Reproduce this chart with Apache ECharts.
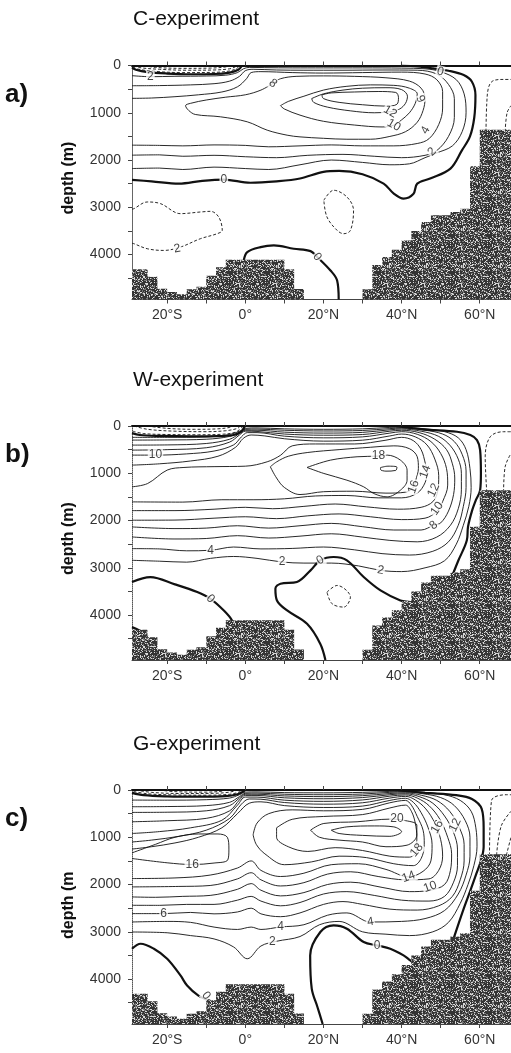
<!DOCTYPE html>
<html>
<head>
<meta charset="utf-8">
<script src="https://cdn.jsdelivr.net/npm/echarts@6/dist/echarts.min.js"></script>
<style>
  html, body { margin: 0; padding: 0; background: #fff; }
  #chart { width: 511px; height: 1053px; }
</style>
</head>
<body>
<div id="chart"></div>
<script>
// ---------- axes ----------
const LAT_MIN = -29, LAT_MAX = 68, DEPTH_MAX = 4950;
const latTicks = [-20, -10, 0, 10, 20, 30, 40, 50, 60];
const latLabels = [-20, 0, 20, 40, 60];
const depthLabels = [0, 1000, 2000, 3000, 4000];
const depthTicks = [0, 500, 1000, 1500, 2000, 2500, 3000, 3500, 4000, 4500];
const panelTitles = ['C-experiment', 'W-experiment', 'G-experiment'];
const panelTags = ['a)', 'b)', 'c)'];
const depthTitles = ['depth (m)', 'depth (m)', 'depth (m'];

// ---------- ocean floor: [west lat, east lat, depth m] ----------
const bathymetry = [
  [-29, -25, 4310], [-25, -22.5, 4470], [-22.5, -20, 4720], [-20, -17.5, 4790],
  [-17.5, -15, 4840], [-15, -12.5, 4735], [-12.5, -10, 4680], [-10, -7.5, 4450],
  [-7.5, -5, 4270], [-5, 10, 4110], [10, 12.5, 4310], [12.5, 15, 4730],
  [15, 30, 4950], [30, 32.5, 4735], [32.5, 35, 4220], [35, 37.5, 4050],
  [37.5, 40, 3900], [40, 42.5, 3700], [42.5, 45, 3500], [45, 47.5, 3310],
  [47.5, 52.5, 3170], [52.5, 55, 3100], [55, 57.5, 3030], [57.5, 60, 2130],
  [60, 68, 1360]
];

// ---------- streamfunction contours (Sv): [level, [[lat, depth], ...]] ----------
const linesC = [
  [0, [[-29,40],[-28,90],[-25,140],[-20,170],[-14,185],[-8,180],[-4,150],[-1.8,90],[-0.8,0]]],
  [-2, [[-28.8,20],[-27.5,75],[-23,125],[-16,150],[-8,145],[-4,115],[-2.2,60],[-1.4,0]]],
  [-4, [[-28.6,0],[-27,45],[-22,80],[-15,100],[-8,95],[-4,70],[-2.6,30],[-2,0]]],
  [-6, [[-26,0],[-23,40],[-16,60],[-9,55],[-5,30],[-4,0]]],
  [2, [[-29,215],[-24.3,237],[-18,228],[-10,222],[-5,205],[-2,150],[-0.5,70],[1,40],[5,45],[12,50],[20,50],[30,50],[40,55],[46,70],[50,130],[54,300],[56,600],[56.5,1000],[55.5,1400],[53,1700],[49,1850],[46,1950],[42,2080],[37,2100],[30,2050],[22,2000],[14,2100],[6,2200],[0,2180],[-8,2150],[-16,2200],[-22,2170],[-29,2180]]],
  [4, [[-29,428],[-22,425],[-14,410],[-8,385],[-4,330],[-1.5,230],[0,110],[2,80],[8,95],[15,100],[25,100],[35,95],[44,100],[49,180],[52,400],[53.5,700],[53.5,1100],[52,1500],[49,1800],[46,1900],[40,1950],[33,1920],[25,1880],[16,1900],[8,1950],[0,1930],[-8,1900],[-16,1920],[-22,1890],[-29,1897]]],
  [6, [[-29,695],[-24,688],[-18,660],[-12,620],[-6,560],[-2,450],[0.3,280],[1.5,150],[4,130],[12,150],[20,160],[30,150],[40,140],[46,180],[49,300],[50.5,550],[50.5,900],[49.5,1250],[47,1550],[44,1650],[38,1700],[30,1700],[22,1680],[14,1700],[6,1720],[0,1690],[-8,1680],[-16,1700],[-22,1690],[-29,1685]]],
  [8, [[7.1,378],[4,520],[0,620],[-5,670],[-10,730],[-14,800],[-15.3,850],[-14.5,950],[-12.8,1036],[-6.4,1085],[0.5,1191],[5.6,1368],[10.7,1474],[14,1510],[20,1540],[26,1560],[32,1560],[37,1500],[41,1400],[44,1200],[45.5,950],[46,700],[45,480],[42,330],[36,260],[28,230],[20,220],[13,230],[9,280],[7.1,378]]],
  [10, [[9,850],[11,760],[15,650],[20,520],[26,440],[32,410],[38,420],[42,480],[44,600],[43.5,800],[42,1000],[40,1150],[38,1262],[35,1300],[28,1260],[20,1180],[14,1050],[10,920],[9,850]]],
  [12, [[17,700],[20,600],[25,520],[30,480],[36,470],[40,510],[41.5,650],[41,800],[39.5,920],[37,979],[33,1000],[27,960],[21,880],[17.5,780],[17,700]]],
  [14, [[19.6,620],[22,580],[28,560],[34,550],[38.5,570],[39.2,680],[38.8,820],[36,860],[30,830],[24,780],[20,700],[19.6,620]]],
  [0, [[-29,2420],[-24,2450],[-17,2500],[-11,2440],[-5.5,2413],[1.3,2480],[8,2450],[14,2390],[20,2250],[24,2230],[30,2300],[35.4,2498],[38,2710],[40.5,2816],[43,2720],[44,2500],[47.3,2392],[52.5,2180],[55.4,1800],[57.5,1500],[58.6,1100],[58.9,626],[58,343],[55.9,202],[52,110],[48,60],[44,20],[40,0]]],
  [0, [[-0.4,4124],[0.5,3947],[3.9,3841],[7.3,3806],[12.4,3876],[16.7,3926],[18.4,4050],[21.8,4336],[23.5,4548],[23.9,4950]]],
  [-2, [[-29,3040],[-28.5,3028],[-25.1,2887],[-21.7,2922],[-16.6,3134],[-11.5,3099],[-8.9,3085],[-6.8,3205],[-5.9,3488],[-7.2,3558],[-11.5,3664],[-16.6,3841],[-20.9,3912],[-25.1,3876],[-28.5,3770],[-29,3760]]],
  [-2, [[20.1,2851],[22.6,2639],[26,2780],[27.7,3063],[26.9,3488],[25.2,3558],[23.5,3488],[20.9,3205],[20.1,2851]]],
  [-2, [[61.6,1400],[61.8,800],[62.3,450],[63.5,320],[66,295],[68,295]]],
  [-2, [[66.5,1400],[67,1000],[68,850]]]
];
const labelsC = [
  [-24.3, 237, '2', 0], [7.1, 378, '8', -40], [37.1, 979, '12', -30], [38, 1262, '10', -30],
  [45.2, 696, '6', 115], [46.1, 1368, '4', 60], [47.8, 1828, '2', 45], [49.9, 131, '0', -15],
  [-5.5, 2413, '0', 0], [18.4, 4050, '0', -50], [-17.4, 3876, '2', 10]
];

const linesW = [
  [0, [[-29,150],[-27,190],[-22,210],[-14,220],[-7,215],[-3,190],[-1,120],[-0.3,30],[0,0]]],
  [-2, [[-28.8,110],[-26,160],[-20,180],[-12,185],[-6,175],[-2.5,130],[-1,40],[-0.7,0]]],
  [-4, [[-28.5,0],[-25,70],[-18,110],[-10,120],[-5,100],[-2,50],[-1.3,0]]],
  [-6, [[-25,0],[-20,50],[-13,70],[-7,60],[-4,30],[-3,0]]],
  [2, [[-29,240],[-20,240],[-10,230],[-4,180],[-1.5,110],[0,50],[3,40],[10,60],[20,70],[30,60],[37,30],[40,25],[46,60],[51,120],[54.5,250],[56.5,500],[57.5,900],[57.8,1300],[57.2,1700],[55.8,2100],[54,2500],[51,2850],[46,3000],[40,3080],[34.6,3054],[29,2960],[22,2900],[15,2900],[9.4,2877],[3,2800],[-3,2760],[-8.9,2800],[-15,2880],[-22,2860],[-29,2841]]],
  [4, [[-29,298],[-20,295],[-10,280],[-4,220],[-1.5,130],[0,70],[3,65],[10,90],[20,105],[30,95],[37,55],[40,45],[46,90],[50.5,170],[53.5,330],[55.5,600],[56.5,950],[56.5,1300],[55.8,1700],[54.5,2100],[52,2450],[48,2650],[42,2730],[35,2700],[28,2620],[20,2560],[12,2590],[4,2600],[-3,2560],[-8.9,2629],[-15,2640],[-22,2600],[-29,2594]]],
  [6, [[-29,404],[-20,400],[-10,370],[-4,280],[-1.5,160],[0,90],[3,90],[10,130],[20,150],[30,135],[37,80],[40,65],[45,110],[49.5,220],[52.5,420],[54.5,700],[55.3,1000],[55.3,1350],[54.5,1750],[52.5,2100],[49,2350],[44,2450],[37,2420],[30,2350],[22,2280],[14,2330],[6,2370],[-2,2320],[-10,2380],[-18,2390],[-29,2347]]],
  [8, [[-29,510],[-20,500],[-10,460],[-4,340],[-1.5,190],[0,110],[3,115],[10,170],[20,195],[30,180],[37,110],[40,90],[44.5,140],[48.5,280],[51.5,500],[53,800],[53.6,1100],[53.3,1450],[52,1800],[50,2050],[48.2,2099],[45,2200],[38,2200],[30,2130],[22,2060],[14,2110],[6,2160],[-2,2110],[-10,2160],[-18,2170],[-29,2135]]],
  [10, [[-29,616],[-23,616],[-15,590],[-8,530],[-3,400],[-1,230],[0.5,140],[3,140],[10,215],[20,250],[30,230],[37,150],[40,120],[44,175],[47.5,330],[50,580],[51.5,900],[51.8,1250],[50.5,1600],[49.1,1800],[46,1950],[40,1980],[32,1920],[24,1860],[16,1900],[8,1960],[0,1920],[-8,1950],[-18,1990],[-29,1993]]],
  [12, [[-29,828],[-22,800],[-14,740],[-7,640],[-2.5,450],[-0.5,260],[1.5,190],[5,210],[10,270],[20,320],[30,300],[37,210],[40,170],[43.5,230],[46.5,400],[48.5,700],[49.5,1050],[49.3,1358],[48,1600],[45,1720],[39,1760],[31,1710],[23,1650],[15,1700],[7,1750],[0,1720],[-8,1760],[-18,1790],[-29,1790]]],
  [14, [[-29,1287],[-25,1217],[-20,933],[-15.7,877],[-8,860],[0,850],[5.6,757],[9,620],[12,420],[18,380],[28,380],[36,300],[40,240],[43,310],[45,500],[46.1,800],[46.5,970],[46,1200],[44,1420],[40,1520],[34,1520],[26,1470],[18,1480],[10,1540],[2,1560],[-6,1560],[-16,1610],[-29,1605]]],
  [16, [[6.4,863],[8,760],[11,640],[16,560],[24,500],[32,450],[38,420],[42,480],[44,650],[44.3,900],[43.6,1150],[43.1,1287],[41,1400],[36,1420],[28,1380],[20,1390],[14,1450],[10,1300],[8,1100],[6.4,863]]],
  [18, [[15.8,877],[21.8,722],[28.6,651],[34.1,637],[36.3,616],[39.7,722],[41.4,934],[41.4,1146],[39.7,1358],[36.3,1499],[32.9,1429],[30.3,1287],[26,1146],[20.1,1004],[15.8,877]]],
  [20, [[34.6,880],[36.5,850],[38.8,870],[38.5,940],[36,955],[34.6,920],[34.6,880]]],
  [0, [[38,0],[45.6,71],[54.2,121],[57.6,192],[59.3,298],[60.1,510],[60.3,1004],[60.1,1358],[59,1570],[58,1800],[57,2130],[56.7,2417],[54.5,2850],[52.5,3266]]],
  [0, [[-29,3301],[-24.3,3195],[-18,3350],[-12.3,3513],[-8.9,3655],[-5.5,3902],[-3.4,4114],[-3,4300]]],
  [0, [[-29,4255],[-27,4330],[-25,4450]]],
  [0, [[20.5,4950],[19.2,4609],[15.8,4185],[10.7,3902],[8.1,3690],[7.7,3443],[9,3336],[13.2,3301],[16.7,3054],[19.2,2841],[22.6,2771],[26,2841],[30.3,3195],[34.6,3478],[39.7,3690],[42.2,3725],[43,3750]]],
  [-2, [[20.9,3514],[23.5,3373],[26.9,3620],[25.2,3831],[22.2,3760],[20.9,3514]]],
  [-2, [[61.8,1400],[61.4,651],[62.7,227],[66.1,121],[68,121]]],
  [-2, [[66.1,1400],[66.5,863],[68,580]]]
];
const labelsW = [
  [-23, 616, '10', 0], [34.1, 637, '18', 0], [43.1, 1287, '16', 70], [46.1, 970, '14', 70],
  [48.2, 1358, '12', 65], [49.1, 1747, '10', 55], [48.2, 2099, '8', 40], [-8.9, 2629, '4', 0],
  [9.4, 2877, '2', 0], [19.2, 2841, '0', 30], [34.6, 3054, '2', -10], [-8.9, 3655, '0', -45]
];

const linesG = [
  [0, [[-29,60],[-26,110],[-20,135],[-12,142],[-5,130],[-2,90],[-0.5,30],[0,0]]],
  [-2, [[-28.6,30],[-25,80],[-18,105],[-10,110],[-4,90],[-1.5,40],[-1,0]]],
  [-4, [[-28,0],[-24,50],[-16,75],[-8,70],[-4,45],[-2,0]]],
  [-6, [[-22,0],[-18,35],[-10,45],[-6,25],[-5,0]]],
  [2, [[-29,213],[-20,215],[-10,205],[-4,170],[-1.5,100],[0,45],[3,40],[10,55],[20,60],[30,50],[37,30],[41,25],[46,50],[51,100],[55,220],[57.8,450],[59,800],[59.3,1200],[58.5,1600],[57,2000],[55,2400],[52,2800],[48,3000],[42,3080],[36,3050],[30,3000],[24,2780],[19,2850],[14,3100],[8,3200],[4,3300],[0.5,3570],[-3,3320],[-8,3150],[-14,3080],[-20,3020],[-29,3004]]],
  [4, [[-29,354],[-20,350],[-10,330],[-4,260],[-1.5,140],[0,70],[3,65],[10,90],[20,100],[30,85],[37,50],[41,40],[45.5,80],[50,160],[53.5,330],[56.3,650],[57.5,1000],[57.5,1400],[56.5,1800],[54.5,2200],[51,2550],[46,2720],[40,2780],[32,2792],[26,2600],[21,2650],[15,2850],[9,2898],[4,2950],[1.5,2900],[-2,2950],[-8,2900],[-14,2800],[-20,2780],[-29,2792]]],
  [6, [[-29,474],[-20,470],[-10,440],[-4,330],[-1.5,170],[0,90],[3,90],[10,125],[20,140],[30,120],[37,75],[41,60],[45,110],[49,220],[52.3,450],[54.8,800],[56,1150],[56,1500],[55,1900],[53,2250],[49.5,2450],[44,2540],[37,2520],[30,2420],[25,2360],[20,2420],[14,2600],[9,2680],[4,2620],[1.5,2500],[-2,2580],[-8,2620],[-14,2590],[-20.9,2615],[-29,2615]]],
  [8, [[-29,672],[-20,650],[-10,600],[-4,440],[-1.5,210],[0,115],[3,115],[10,165],[20,185],[30,160],[37,100],[41,80],[44.5,140],[48,280],[51,550],[53.3,900],[54.3,1250],[54.3,1600],[53.3,1950],[51,2250],[47,2350],[40,2330],[33,2230],[26,2150],[20,2200],[14,2380],[9,2450],[4,2350],[1.5,2250],[-2,2330],[-8,2420],[-15,2420],[-22,2440],[-29,2439]]],
  [10, [[-29,920],[-22,880],[-14,800],[-6,640],[-2,320],[0,150],[3,150],[10,215],[20,240],[30,210],[37,130],[41,105],[44,170],[47,330],[49.8,620],[51.8,1000],[52.8,1350],[52.5,1700],[51,2000],[47.3,2120],[42,2150],[35,2060],[27,1950],[21,2000],[15,2170],[9,2240],[4,2120],[1.5,1980],[-2,2100],[-9,2230],[-16,2250],[-23,2270],[-29,2262]]],
  [12, [[-29,1100],[-24,1060],[-17,980],[-10,850],[-4,600],[-1,300],[1,190],[4,195],[10,265],[20,300],[30,270],[37,170],[41,135],[43.5,210],[46.2,400],[48.5,700],[50,1050],[50.5,1400],[49.5,1700],[47,1880],[41,1900],[34,1830],[27,1730],[21,1780],[15,1960],[9,2030],[4,1900],[1.5,1750],[-2,1880],[-9,2020],[-17,2040],[-29,2050]]],
  [14, [[-29,1250],[-24,1200],[-18,1120],[-12,1000],[-6,800],[-2,500],[1,280],[4,250],[10,330],[20,370],[30,340],[37,220],[41,175],[43,260],[45,480],[46.8,800],[47.8,1150],[47.5,1500],[45.5,1720],[41.8,1838],[36,1680],[29,1560],[22,1580],[15,1760],[9,1830],[4,1700],[1.5,1500],[-2,1650],[-9,1800],[-18,1860],[-29,1873]]],
  [16, [[-29,1449],[-20,1540],[-13.6,1576],[-8,1545],[-4.5,1480],[-4.2,1250],[-4.6,1000],[-7,930],[-12,930],[-18,1000],[-23,1150],[-29,1330]]],
  [16, [[2,950],[3,700],[6,500],[12,420],[20,440],[30,410],[37,270],[41,220],[42.5,320],[44,560],[45.5,850],[45.8,1150],[45,1450],[43,1600],[38,1560],[31,1430],[24,1400],[17,1520],[10,1580],[5,1350],[2.8,1150],[2,950]]],
  [18, [[8,800],[12,620],[20,560],[30,520],[37,380],[41,320],[42.5,450],[43.5,700],[43.9,1000],[43.9,1273],[42,1420],[37,1400],[30,1280],[23,1220],[16,1300],[11,1200],[8,1000],[8,800]]],
  [20, [[16.7,849],[20.1,708],[28.6,672],[37.1,616],[40.5,640],[43.9,743],[43.9,955],[41.4,1167],[36,1200],[30,1100],[24,1060],[19,1000],[16.7,849]]],
  [22, [[22,850],[26,780],[33,760],[38,780],[40,880],[37,980],[30,960],[24,920],[22,850]]],
  [0, [[38,0],[46,60],[54,110],[58,190],[60.5,400],[61,800],[61,1200],[60.3,1500],[59,1800],[57.5,2150],[55.9,2509],[53.3,3145]]],
  [0, [[-29,3358],[-26.8,3252],[-23.4,3358],[-20,3570],[-16.6,3923],[-14.9,4135],[-12,4350],[-9,4460]]],
  [0, [[19.8,4950],[18.5,4600],[17,4200],[16.6,3499],[19.2,3004],[22.6,2863],[26,2934],[30.3,3216],[33.7,3287],[37.1,3358],[40.5,3499],[42.2,3605],[43,3650]]],
  [-2, [[62.5,1380],[63,230],[66.8,100],[68,100]]],
  [-2, [[64.3,1380],[65.5,760],[68,450]]],
  [-2, [[66.8,1380],[68,1000]]]
];
const labelsG = [
  [-13.6, 1576, '16', 0], [-20.9, 2615, '6', 0], [9, 2898, '4', 0], [6.9, 3216, '2', 0],
  [38.8, 616, '20', 0], [49.1, 778, '16', 60], [53.7, 743, '12', 65], [43.9, 1273, '18', 50],
  [41.8, 1838, '14', 20], [47.3, 2050, '10', 20], [32, 2792, '4', 10], [33.7, 3287, '0', 0],
  [-10, 4350, '0', -50]
];

// ---------- layout ----------
const plotLeft = 132, plotWidth = 379, plotHeight = 234;
const panelTops = [65.5, 426, 790];
const panels = [
  { lines: linesC, labels: labelsC },
  { lines: linesW, labels: labelsW },
  { lines: linesG, labels: labelsG }
];

// grainy stipple texture for the sea floor
function floorPattern() {
  const n = 37;
  const c = document.createElement('canvas');
  c.width = n; c.height = n;
  const g = c.getContext('2d');
  const img = g.createImageData(n, n);
  for (let y = 0; y < n; y++) for (let x = 0; x < n; x++) {
    const s = Math.sin(x * 12.9898 + y * 78.233) * 43758.5453;
    const h = s - Math.floor(s);
    const v = h > 0.8 ? 215 : (h > 0.6 ? 120 : 52);
    const k = (y * n + x) * 4;
    img.data[k] = img.data[k + 1] = img.data[k + 2] = v;
    img.data[k + 3] = 255;
  }
  g.putImageData(img, 0, 0);
  return c;
}
const floorFill = { image: floorPattern(), repeat: 'repeat' };

const latFmt = v => v < 0 ? (-v) + '°S' : (v === 0 ? '0°' : v + '°N');
const FONT = '"Liberation Sans", Arial, Helvetica, sans-serif';

const grid = [], xAxis = [], yAxis = [], series = [], graphic = [];

panels.forEach((p, i) => {
  const top = panelTops[i];
  grid.push({ left: plotLeft, top: top, width: plotWidth, height: plotHeight });
  xAxis.push({
    type: 'value', gridIndex: i, position: 'bottom', min: LAT_MIN, max: LAT_MAX,
    axisLine: { show: true, onZero: false, lineStyle: { color: '#444', width: 1 } },
    axisTick: { show: true, customValues: latTicks, length: 4, lineStyle: { color: '#444' } },
    axisLabel: { customValues: latLabels, formatter: latFmt, fontSize: 14, color: '#333', margin: 9, fontFamily: FONT },
    splitLine: { show: false }
  });
  xAxis.push({
    type: 'value', gridIndex: i, position: 'top', min: LAT_MIN, max: LAT_MAX,
    axisLine: { show: true, onZero: false, lineStyle: { color: '#111', width: 2 } },
    axisTick: { show: true, customValues: latTicks, length: 4, lineStyle: { color: '#444' } },
    axisLabel: { show: false }, splitLine: { show: false }
  });
  yAxis.push({
    type: 'value', gridIndex: i, inverse: true, min: 0, max: DEPTH_MAX, interval: 1000,
    axisLine: { show: true, onZero: false, lineStyle: { color: '#555', width: 1, type: 'dotted' } },
    axisTick: { show: true, customValues: depthTicks, length: 4, lineStyle: { color: '#444' } },
    axisLabel: { customValues: depthLabels, formatter: v => String(v), fontSize: 14, color: '#333', margin: 11, fontFamily: FONT },
    splitLine: { show: false }
  });

  p.lines.forEach(([lv, pts]) => {
    series.push({
      type: 'line', xAxisIndex: i * 2, yAxisIndex: i, data: pts,
      smooth: 0.35, symbol: 'none', silent: true, animation: false, z: 3,
      lineStyle: { color: '#111', width: lv === 0 ? 2.2 : 0.9, type: lv < 0 ? [3, 2] : 'solid' }
    });
  });

  const floorPts = [];
  bathymetry.forEach(([a, b, d]) => { floorPts.push([a, d], [b, d]); });
  series.push({
    type: 'line', xAxisIndex: i * 2, yAxisIndex: i, data: floorPts,
    symbol: 'none', silent: true, animation: false, z: 5,
    lineStyle: { width: 0 }, areaStyle: { origin: 'end', color: floorFill, opacity: 1 }
  });

  series.push({
    type: 'scatter', xAxisIndex: i * 2, yAxisIndex: i, silent: true, animation: false, z: 4,
    symbolSize: 1, itemStyle: { color: 'rgba(0,0,0,0)' },
    data: p.labels.map(([la, d, t, r]) => ({ value: [la, d], name: t, label: { rotate: r } })),
    label: {
      show: true, position: 'inside', formatter: '{b}', fontSize: 12, color: '#111',
      fontFamily: FONT, backgroundColor: '#fff', padding: [0, 1, 0, 1]
    }
  });

  graphic.push({
    type: 'text', x: 133, y: top - 46, style: {
      text: panelTitles[i], font: '21px ' + FONT, fill: '#111', textVerticalAlign: 'middle'
    }
  });
  graphic.push({
    type: 'text', x: 5, y: top + 29, style: {
      text: panelTags[i], font: 'bold 26px ' + FONT, fill: '#111', textVerticalAlign: 'middle'
    }
  });
  graphic.push({
    type: 'text', x: 69, y: top + 149, rotation: Math.PI / 2, style: {
      text: depthTitles[i], font: 'bold 16px ' + FONT, fill: '#111',
      textAlign: 'left', textVerticalAlign: 'middle'
    }
  });
});

const chart = echarts.init(document.getElementById('chart'), null, { renderer: 'canvas' });
chart.setOption({ animation: false, backgroundColor: '#fff', grid, xAxis, yAxis, series, graphic });
</script>
</body>
</html>
